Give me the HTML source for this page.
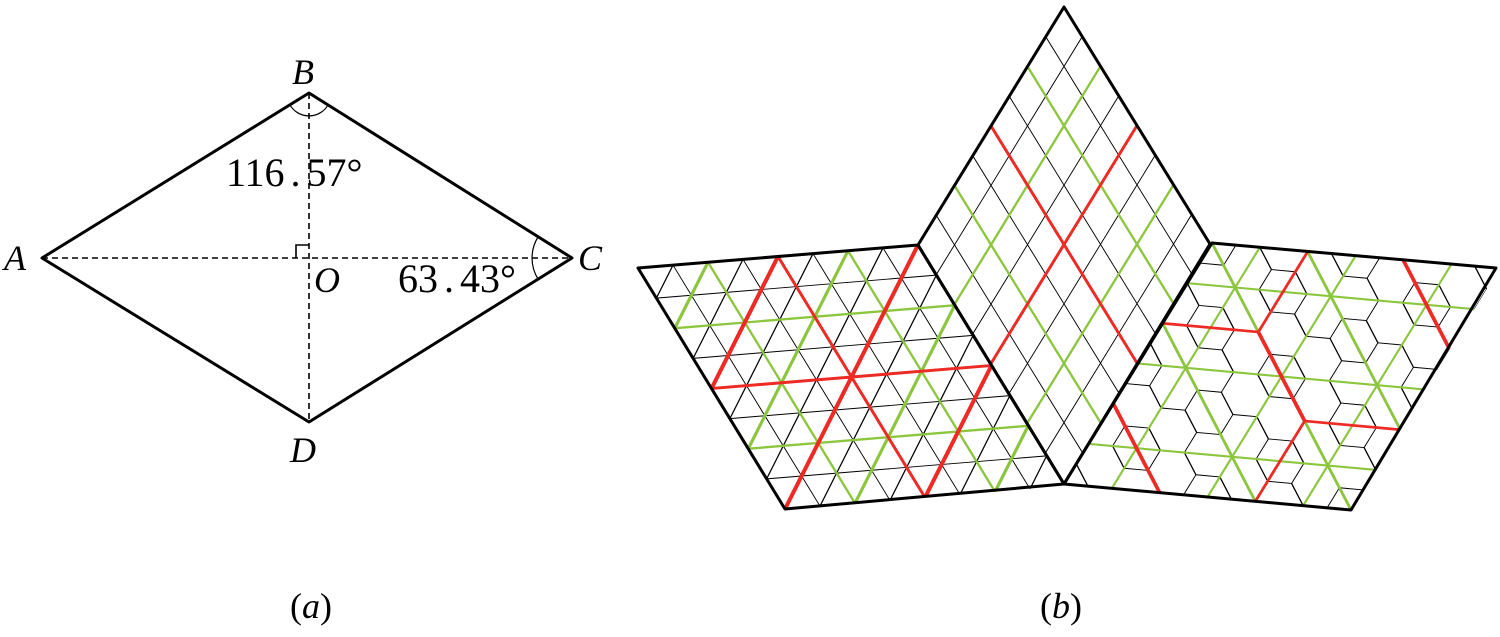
<!DOCTYPE html>
<html><head><meta charset="utf-8"><style>
html,body{margin:0;padding:0;background:#fff;}
svg{display:block;}
text{font-family:"Liberation Serif",serif;fill:#000;}
</style></head><body>
<svg width="1500" height="637" viewBox="0 0 1500 637" xmlns="http://www.w3.org/2000/svg">
<defs>
<clipPath id="cu"><rect x="0" y="0" width="8" height="8"/></clipPath>
<clipPath id="cr"><rect x="0" y="0" width="12" height="12"/></clipPath>
</defs>

<!-- (a) -->
<g stroke="#000" fill="none">
<polygon points="42,258 309,93 572,258 309,422" stroke-width="3" stroke-linejoin="round"/>
<line x1="42" y1="258" x2="572" y2="258" stroke-width="1.6" stroke-dasharray="6,4"/>
<line x1="309" y1="93" x2="309" y2="422" stroke-width="1.6" stroke-dasharray="6,4"/>
<polyline points="296,258 296,245 309,245" stroke-width="1.6"/>
<path d="M290 105 A22 22 0 0 0 328 105" stroke-width="1.2"/>
<path d="M538 237 A40 40 0 0 0 538 279" stroke-width="1.2"/>
</g>
<text x="292" y="84" font-size="36" font-style="italic">B</text>
<text x="4" y="270" font-size="36" font-style="italic">A</text>
<text x="578" y="270" font-size="36" font-style="italic">C</text>
<text x="290" y="462" font-size="36" font-style="italic">D</text>
<text x="314" y="292" font-size="36" font-style="italic">O</text>
<text x="226" y="186" font-size="40">116<tspan dx="6">.</tspan><tspan dx="6">57°</tspan></text>
<text x="398" y="292" font-size="40">63<tspan dx="6">.</tspan><tspan dx="6">43°</tspan></text>
<text x="290" y="618" font-size="36">(<tspan font-style="italic">a</tspan>)</text>
<text x="1040" y="618" font-size="36">(<tspan font-style="italic">b</tspan>)</text>

<!-- (b) left rhombus: triangular grid -->
<g transform="matrix(35,-2.875,18.375,30.125,638,268)" fill="none" clip-path="url(#cu)">
<path stroke="#000" stroke-width="0.03" d="M1 0V8M2 0V8M3 0V8M4 0V8M5 0V8M6 0V8M7 0V8M0 1H8M0 2H8M0 3H8M0 4H8M0 5H8M0 6H8M0 7H8M1 0L0 1M2 0L0 2M3 0L0 3M4 0L0 4M5 0L0 5M6 0L0 6M7 0L0 7M8 0L0 8M8 1L1 8M8 2L2 8M8 3L3 8M8 4L4 8M8 5L5 8M8 6L6 8M8 7L7 8"/>
<path stroke="#8cc63f" stroke-width="0.075" d="M2 0V8M6 0V8M0 2H8M0 6H8M2 0L0 2M6 0L0 6M8 2L2 8M8 6L6 8"/>
<path stroke="#ee2a24" stroke-width="0.095" d="M4 0V8M0 4H8M4 0L0 4M8 0L0 8M8 4L4 8"/>
</g>

<!-- top rhombus: rhombic grid -->
<g transform="matrix(18.25,-29.75,18.25,29.625,918,245)" fill="none" clip-path="url(#cu)">
<path stroke="#000" stroke-width="0.03" d="M1 0V8M2 0V8M3 0V8M4 0V8M5 0V8M6 0V8M7 0V8M0 1H8M0 2H8M0 3H8M0 4H8M0 5H8M0 6H8M0 7H8"/>
<path stroke="#8cc63f" stroke-width="0.075" d="M2 0V8M6 0V8M0 2H8M0 6H8"/>
<path stroke="#ee2a24" stroke-width="0.095" d="M4 0V8M0 4H8"/>
</g>

<!-- right rhombus: honeycomb -->
<g transform="matrix(12.333,-20.083,23.917,2.1667,1064,484)" fill="none" clip-path="url(#cr)">
<path stroke="#000" stroke-width="0.045" stroke-dasharray="1 2" d="M-2 0H15M-1 1H15M-3 2H15M-2 3H15M-1 4H15M-3 5H15M-2 6H15M-1 7H15M-3 8H15M-2 9H15M-1 10H15M-3 11H15M-2 12H15"/>
<path stroke="#000" stroke-width="0.045" stroke-dasharray="1 2" d="M0 -2V15M1 -1V15M2 -3V15M3 -2V15M4 -1V15M5 -3V15M6 -2V15M7 -1V15M8 -3V15M9 -2V15M10 -1V15M11 -3V15M12 -2V15"/>
<path stroke="#000" stroke-width="0.045" stroke-dasharray="1.4142 2.8284" d="M17 -17L-3 3M16 -15L-3 4M15 -13L-3 5M17 -14L-3 6M16 -12L-3 7M15 -10L-3 8M17 -11L-3 9M16 -9L-3 10M15 -7L-3 11M17 -8L-3 12M16 -6L-3 13M15 -4L-3 14M17 -5L-3 15M16 -3L-3 16M15 -1L-3 17M17 -2L-3 18M16 0L-3 19M15 2L-3 20M17 1L-3 21M16 3L-3 22M15 5L-3 23M17 4L-3 24M16 6L-3 25M15 8L-3 26M17 7L-3 27"/>
<path stroke="#8cc63f" stroke-width="0.1" d="M2 0V12M6 0V12M10 0V12M0 2H12M0 6H12M0 10H12M4 0L0 4M8 0L0 8M12 0L0 12M12 4L4 12M12 8L8 12"/>
<path stroke="#ee2a24" stroke-width="0.13" d="M8 0L8 4M8 4L4 8M4 8L4 12M8 4L12 4M4 8L0 8M12 8L8 12M4 0L0 4"/>
</g>

<!-- outlines -->
<g fill="none" stroke="#000" stroke-width="3" stroke-linejoin="round">
<polygon points="638,268 918,245 1064,484 785,509"/>
<polygon points="918,245 1064,7 1210,244 1064,484"/>
<polygon points="1064,484 1212,243 1496,268 1351,510"/>
</g>
</svg>
</body></html>
